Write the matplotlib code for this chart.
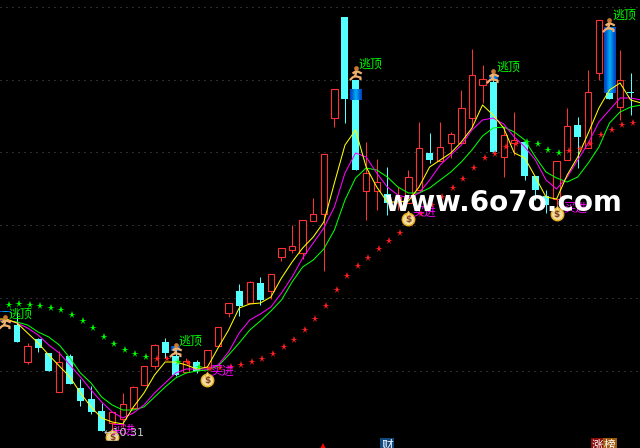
import numpy as np
import matplotlib
matplotlib.use("Agg")
import matplotlib.pyplot as plt
from matplotlib.path import Path

plt.rcParams['font.family'] = ['Noto Sans CJK SC', 'DejaVu Sans']

# Heights are read straight off the screen, so the y axis runs downwards
body_top = [325, 346, 339, 353, 362, 356, 388, 399, 411, 412, 404, 387, 366, 345, 342, 356, 361, 362, 350, 327,
            303, 291, 282, 283, 274, 248, 246, 220, 214, 154, 89, 17, 80, 173, 182, 194, 197, 177, 148, 153,
            147, 134, 108, 75, 79, 82, 135, 140, 142, 176, 196, 161, 126, 125, 92, 20, 27, 80, 92]
body_bot = [342, 362, 348, 371, 392, 384, 401, 412, 431, 423, 419, 408, 385, 366, 353, 375, 372, 371, 367, 346,
            313, 306, 303, 300, 291, 257, 250, 253, 221, 214, 118, 99, 170, 191, 191, 203, 203, 203, 190, 160,
            161, 143, 143, 118, 85, 152, 157, 143, 176, 190, 205, 199, 160, 137, 148, 73, 99, 107, 93]
high = [312, 343, 338, 353, 351, 354, 379, 386, 403, 412, 393, 386, 366, 344, 338, 345, 358, 360, 350, 327,
        303, 284, 281, 277, 274, 248, 225, 220, 198, 154, 89, 17, 80, 142, 159, 167, 187, 170, 122, 133,
        122, 132, 90, 49, 65, 73, 127, 112, 142, 176, 190, 161, 108, 117, 70, 20, 27, 50, 73]
low = [342, 364, 352, 371, 392, 384, 406, 414, 431, 430, 427, 408, 385, 369, 358, 376, 372, 373, 370, 346,
       317, 316, 303, 305, 299, 261, 253, 259, 221, 271, 127, 123, 170, 220, 210, 215, 210, 203, 190, 163,
       161, 158, 143, 127, 103, 152, 177, 155, 180, 200, 213, 208, 160, 168, 148, 80, 99, 120, 115]
rising = [0, 1, 0, 0, 1, 0, 0, 0, 0, 1, 1, 1, 1, 1, 0, 0, 1, 0, 1, 1,
          1, 0, 1, 0, 1, 1, 1, 1, 1, 1, 1, 0, 0, 1, 1, 0, 1, 1, 1, 0,
          1, 1, 1, 1, 1, 0, 1, 1, 0, 0, 0, 1, 1, 0, 1, 1, 0, 1, 0]

# moving averages, bars -2 to 59
ma_fast = [319, 319, 323, 333, 343, 355, 366, 377, 393, 407, 418, 422, 424, 407, 393, 375, 362, 362, 365, 369, 367,
           348, 330, 308, 304, 303, 297, 278, 262, 248, 237, 222, 183, 145, 130, 167, 187, 202, 202, 201, 187,
           167, 160, 153, 142, 128, 105, 115, 128, 153, 158, 177, 197, 199, 175, 157, 133, 108, 90, 83, 100, 103]
ma_mid = [320, 320, 323, 328, 335, 345, 353, 365, 377, 390, 402, 412, 418, 413, 405, 393, 383, 373, 369, 369, 369,
          365, 352, 333, 320, 314, 307, 293, 277, 258, 243, 228, 207, 173, 153, 157, 173, 187, 195, 198, 193,
          180, 165, 155, 145, 130, 120, 118, 124, 137, 147, 160, 180, 189, 177, 160, 143, 122, 110, 98, 98, 100]
ma_slow = [321, 321, 322, 325, 332, 337, 345, 358, 373, 383, 397, 405, 410, 410, 407, 397, 387, 378, 373, 371, 370,
           366, 355, 343, 330, 321, 311, 300, 282, 267, 260, 249, 230, 200, 178, 168, 170, 177, 187, 193, 193,
           188, 180, 172, 162, 150, 136, 128, 127, 132, 140, 157, 172, 178, 182, 177, 163, 147, 123, 112, 107, 105]

# trailing stop stars, bars -1 to 58
stop = [305, 304, 305, 306, 308, 310, 315, 321, 328, 337, 344, 350, 354, 357, 359, 359, 362, 363, 367, 369,
        368, 367, 365, 362, 359, 354, 347, 340, 330, 319, 306, 290, 276, 266, 258, 249, 241, 233, 224, 214,
        205, 197, 188, 179, 168, 158, 154, 147, 144, 142, 144, 150, 153, 151, 149, 144, 135, 130, 125, 123]
stop_up = [1] * 14 + [0, 0, 1, 0, 1] + [0] * 30 + [1, 1, 1, 1] + [0] * 7

# signals
sell_bars = [-1.1, 15, 32, 45, 56]
sell_y = [322, 350, 73, 76, 25]
sell_label_bars = [0.3, 16.35, 33.4, 46.4, 57.4]
sell_label_y = [314, 341, 64, 67, 15]
buy_bars = [9, 18, 37, 51]
buy_y = [437, 380, 219, 214]
buy_label_bars = [10, 19.4, 38.5, 52.8]
buy_label_y = [430, 371, 212, 208]
grid_y = [7, 80, 152, 225, 298, 371]

RED = "#ff3232"
CYAN = "#54ffff"

fig = plt.figure(figsize=(6.4, 4.48), dpi=100, facecolor="black")
ax = fig.add_axes([0, 0, 1, 1], facecolor="black")
ax.axis("off")

bars = np.arange(len(body_top))
body_top, body_bot = np.array(body_top), np.array(body_bot)
high, low = np.array(high), np.array(low)
up = np.array(rising) == 1

for y in grid_y:
    ax.axhline(y, color="#5a5a5a", lw=0.72, ls=(0, (1, 5)), zorder=1)

# candles
ax.vlines(bars[up], high[up], body_top[up], color=RED, lw=0.72, zorder=2)
ax.vlines(bars[up], body_bot[up], low[up], color=RED, lw=0.72, zorder=2)
ax.vlines(bars[~up], high[~up], low[~up], color=CYAN, lw=0.72, zorder=2)
ax.bar(bars[up], (body_bot - body_top)[up], bottom=body_top[up], width=0.6,
       facecolor="black", edgecolor=RED, lw=0.8, zorder=3)
ax.bar(bars[~up], (body_bot - body_top)[~up], bottom=body_top[~up], width=0.66,
       color=CYAN, lw=0, zorder=3, antialiased=False)

# blue shading on the strongest sell bars
shade = np.array([[0.0, 0.25, 0.75, 1.0, 0.75, 0.25, 0.0]])
blues = matplotlib.colors.LinearSegmentedColormap.from_list("b", ["#0048c8", "#00a8f0"])
for b, top, bot, w in [(32, 89, 100, 0.52), (56, 27, 93, 0.52), (15, 346, 351, 0.4), (45, 76, 80, 0.42), (-1.1, 311, 312, 0.5)]:
    ax.imshow(shade, cmap=blues, aspect="auto", extent=(b - w, b + w, bot, top), zorder=4)

line_x = np.arange(-2, 60)
for vals, col in [(ma_slow, "#00ff00"), (ma_mid, "#ff00ff"), (ma_fast, "#ffff00")]:
    ax.plot(line_x, vals, color=col, lw=0.75, zorder=5)

stop_x = np.arange(-1, 59) + 0.2
stop = np.array(stop)
is_up = np.array(stop_up) == 1
ax.plot(stop_x[is_up], stop[is_up], ls="", marker="*", ms=5.5, mew=0, color="#00ff00", zorder=6)
ax.plot(stop_x[~is_up], stop[~is_up], ls="", marker="*", ms=5.5, mew=0, color="#ff2020", zorder=6)

# running man
runner = Path([(0, 2), (-1, -2), (3, -3), (3, -5), (-1, -2), (-3, -3), (-5, -5), (-3, 0), (0, 2), (4, 0)],
              [Path.MOVETO, Path.LINETO, Path.LINETO, Path.LINETO, Path.MOVETO, Path.LINETO, Path.LINETO,
               Path.MOVETO, Path.LINETO, Path.LINETO])
ax.plot(sell_bars, sell_y, ls="", marker=runner, ms=9.5, mfc="none", mec="#f0b070", mew=1.6, zorder=7)
ax.plot(sell_bars, np.array(sell_y) - 5, ls="", marker="o", ms=3.4, mew=0, color="#c87830", zorder=7)
for b, y in zip(sell_label_bars, sell_label_y):
    ax.text(b, y, "逃顶", color="#00ff00", fontsize=8.6, ha="center", va="center", zorder=8)

# money bags
ax.plot(buy_bars, buy_y, ls="", marker="o", ms=9, mfc="#f2dc9a", mec="#e8b020", mew=1, zorder=7)
ax.plot(buy_bars, np.array(buy_y) - 6, ls="", marker="^", ms=3.5, mfc="#f2dc9a", mec="#e8b020", mew=0.6, zorder=7)
for b, y in zip(buy_bars, buy_y):
    ax.text(b, y + 0.5, "$", color="#804020", fontsize=6.5, fontweight="bold", ha="center", va="center",
            family="DejaVu Sans", zorder=8)
for b, y in zip(buy_label_bars, buy_label_y):
    ax.text(b, y, "买进", color="#ff00ff", fontsize=8.6, ha="center", va="center", zorder=8)

ax.text(8.13, 433, "←10.31", color="#c8c8c8", fontsize=8, ha="left", va="center", family="DejaVu Sans", zorder=9)

ax.text(45.9, 203, "www.6o7o.com", color="white", fontsize=20, fontweight="bold", ha="center", va="center",
        family="DejaVu Sans", zorder=10)

# chart window ends here, the flags below are cut off by the picture edge
ax.axhspan(441, 448, color="black", zorder=8.5)
ax.plot([28.9], [447], ls="", marker="^", ms=6, mew=0, color="#ff0000", zorder=9)
ax.text(35, 445.5, "财", color="white", fontsize=8.4, ha="center", va="center", zorder=9,
        bbox=dict(boxstyle="square,pad=0.1", fc="#104880", ec="none"), clip_on=True)
ax.text(54.9, 445.5, "涨", color="white", fontsize=8.4, ha="center", va="center", zorder=9,
        bbox=dict(boxstyle="square,pad=0.1", fc="#8c0c0c", ec="none"), clip_on=True)
ax.text(56.05, 445.5, "榜", color="white", fontsize=8.4, ha="center", va="center", zorder=9,
        bbox=dict(boxstyle="square,pad=0.1", fc="#a05a10", ec="none"), clip_on=True)

ax.set_xlim(-1.607, 58.885)
ax.set_ylim(448, 0)

fig.savefig("out.png", dpi=100, facecolor="black")
